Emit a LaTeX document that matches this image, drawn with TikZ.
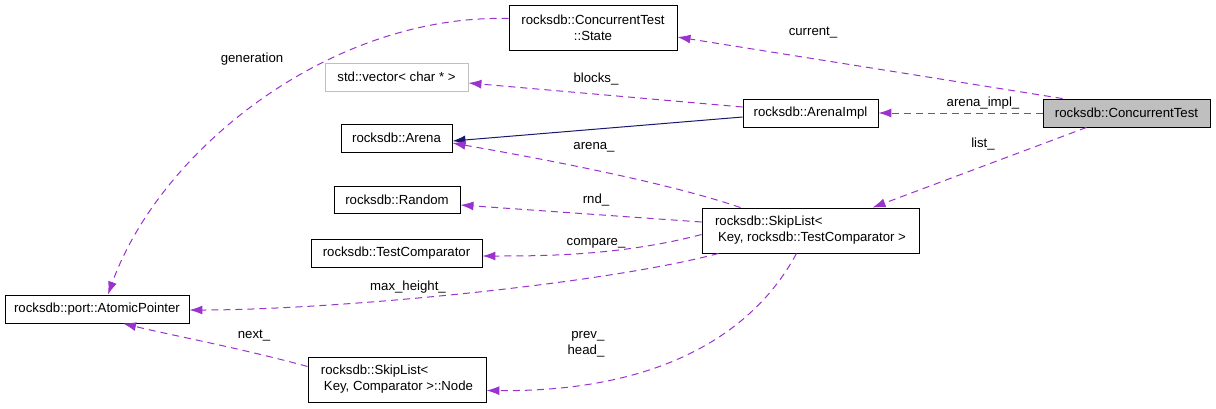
\documentclass[tikz,border=0pt]{standalone}
\usepackage{fontspec}
\setmainfont{Liberation Sans}
\usetikzlibrary{arrows.meta}
\definecolor{edgepurple}{HTML}{9A32CD}
\definecolor{navyblue}{HTML}{191970}
\definecolor{boxgray}{HTML}{BFBFBF}
\definecolor{lightborder}{HTML}{BFBFBF}
\begin{document}
\begin{tikzpicture}[x=1pt,y=-1pt,
  cls/.style={draw=black, line width=0.9pt, inner sep=0pt, font=\fontsize{13.2}{16}\selectfont, align=center},
  dep/.style={draw=edgepurple, dashed, dash pattern=on 7pt off 5pt, line width=1pt, -{Latex[length=13pt,width=9pt]}},
  inh/.style={draw=navyblue, line width=1pt, -{Latex[length=13pt,width=9pt]}},
  lbl/.style={font=\fontsize{13.2}{16}\selectfont, inner sep=0pt}]
\useasboundingbox (0,0) rectangle (1216,408);

\node[cls, minimum width=168pt, minimum height=45pt] (state) at (593,27.5) {rocksdb::ConcurrentTest\\::State};
\node[cls, draw=lightborder, minimum width=143pt, minimum height=28pt] (vec) at (396.5,77) {std::vector< char * >};
\node[cls, minimum width=135pt, minimum height=28pt] (aimpl) at (810.5,113) {rocksdb::ArenaImpl};
\node[cls, fill=boxgray, minimum width=167pt, minimum height=28pt] (ct) at (1126.5,113) {rocksdb::ConcurrentTest};
\node[cls, minimum width=111pt, minimum height=28pt] (arena) at (396.5,138) {rocksdb::Arena};
\node[cls, minimum width=126pt, minimum height=27pt] (rnd) at (397,199.5) {rocksdb::Random};
\node[cls, minimum width=171pt, minimum height=28pt] (tcmp) at (396.5,253) {rocksdb::TestComparator};
\node[cls, minimum width=217pt, minimum height=45pt, align=left] (skip) at (810.5,230.5) {rocksdb::SkipList<\\\hspace*{3pt}Key, rocksdb::TestComparator >};
\node[cls, minimum width=184pt, minimum height=28pt] (atom) at (97,309) {rocksdb::port::AtomicPointer};
\node[cls, minimum width=178pt, minimum height=45pt, align=left] (snode) at (397,379.5) {rocksdb::SkipList<\\\hspace*{3pt}Key, Comparator >::Node};

% edges
\draw[dep] (ct.north west) ++(20,0) -- ([yshift=3pt]state.east |- 0,40);
\node[lbl] (l_cur) at (813,33) {current\_};

\draw[dep] (ct.west) -- (aimpl.east);
\node[lbl] (l_ai) at (983,103) {arena\_impl\_};

\draw[dep] ([xshift=-40pt]ct.south) -- ([xshift=62pt]skip.north);
\node[lbl] (l_list) at (983,144) {list\_};

\draw[dep] ([yshift=6pt]aimpl.west) -- ([yshift=-6pt]vec.east);
\node[lbl] (l_blocks) at (596,79) {blocks\_};

\draw[inh] ([yshift=-4pt]aimpl.west) -- ([yshift=-3pt]arena.east);

\draw[dep] ([xshift=-70pt]skip.north) .. controls (660,180) and (520,155) .. ([yshift=-5pt]arena.east);
\node[lbl] (l_arena) at (594,147) {arena\_};

\draw[dep] ([yshift=8.5pt]skip.west) -- ([yshift=-5.5pt]rnd.east);
\node[lbl] (l_rnd) at (596,200) {rnd\_};

\draw[dep] ([yshift=-4pt]skip.west) .. controls (620,256) and (540,256) .. ([yshift=-3pt]tcmp.east);
\node[lbl] (l_cmp) at (596,243) {compare\_};

\draw[dep] ([xshift=-92pt]skip.south) .. controls (600,285) and (330,310) .. ([yshift=-1pt]atom.east);
\node[lbl] (l_max) at (408,287) {max\_height\_};

\draw[dep] ([xshift=-14pt]skip.south) .. controls (750,340) and (650,392) .. ([yshift=-11pt]snode.east);
\node[lbl, align=right] (l_ph) at (586,344) {prev\_\\head\_};

\draw[dep] ([yshift=13pt]snode.west) .. controls (240,348) and (170,335) .. ([xshift=26pt]atom.south);
\node[lbl] (l_next) at (254,336) {next\_};

\draw[dep] ([yshift=9pt]state.west) .. controls (330,14) and (160,150) .. ([xshift=11pt]atom.north);
\node[lbl] (l_gen) at (252,59) {generation};
\end{tikzpicture}
\end{document}
